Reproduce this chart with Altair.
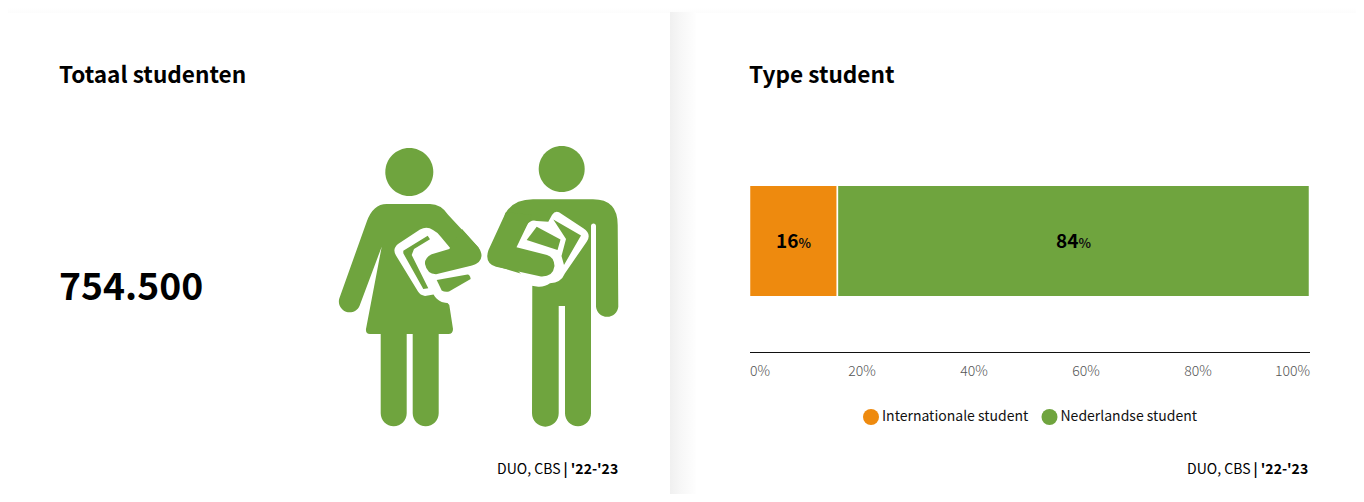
import altair as alt
import pandas as pd

FONT = "Noto Sans CJK SC"
GREEN = "#6fa43e"
ORANGE = "#ee8a0e"

# --- data
categories = ["Internationale student", "Nederlandse student"]
shares = [15.7, 84.3]
share_labels = ["16", "84"]
tick_values = [0, 20, 40, 60, 80, 100]
card_titles = ["Totaal studenten", "Type student"]
total_label = "754.500"
source_regular = "DUO, CBS"
source_bold = "| '22-'23"

# --- pictogram outlines (drawn back to front; page pixels)
def head(cx, cy, r):
    return f"M{cx-r},{cy}A{r},{r} 0 1 0 {cx+r},{cy}A{r},{r} 0 1 0 {cx-r},{cy}Z"

woman_body = ("M386.7,204 L430,204 Q441,204 448.3,215 L478.3,247.3 Q483,256 475,264 L437,274.3 L432,285 L449.3,305 "
              "L453,329 Q453,334 448.3,334 L438.7,334 L438.7,413.3 A13,13 0 0 1 412.7,413.3 L412.7,334 L406.7,334 "
              "L406.7,413.3 A13,13 0 0 1 380.7,413.3 L380.7,334 L370,334 Q365.5,334 366,329 L381.7,246.7 L359.5,306 "
              "A10.8,10.8 0 0 1 339.3,298.5 L366.7,221.7 Q373,204 386.7,204Z")
woman_book = ("M420,229.5 Q427,226 433,230 Q438,232.5 441,237 L451,249 L470,270 L452.5,303 Q446,303.5 441.7,302 "
              "Q436,299 433.5,294.5 L425,296 Q420,295 418,291.5 L396,255.5 Q392,249 398,244 Z")
woman_strip = "M403.3,250.7 L427.7,235.7 L430,239.3 L414,249 L411.7,255 L428.3,288.3 L423.3,289 L403.3,253.3Z"
woman_arm = ("M449.3,249 L431.7,254.3 Q424.5,258 425,264 Q427,274 436,274.3 L472,265.5 Q481,263 481.5,256 "
             "Q481.5,251 478,247 L462,229Z")
woman_piece = "M436.7,280 L467.5,274.5 Q470,274.5 470.7,279 L449,291.5 Q445,292.5 441.7,290.5Z"

man_body = ("M533,199.3 L593,199.3 Q617.7,199.3 617.7,225 L618.3,306.7 A11.2,11.2 0 0 1 596,306.7 L596,226 "
            "A2.5,2.5 0 0 0 591,226 L591,413.3 A13,13 0 0 1 565,413.3 L565,306 L558.7,306 L558.7,413.3 "
            "A13.3,13.3 0 0 1 532,413.3 L532.3,277 L496,266 L505,214 Q513,199.3 533,199.3Z")
man_book = ("M515,246.7 L526.7,225 Q531,219 536.7,221 L548.3,221.7 L552,215 Q555,210.5 559,212.3 L583.3,228.3 "
            "Q592,234 586.7,241.7 L565,273.3 Q561,283 550,283.3 Q545,287 538.3,286.7 L531.7,285.7 L510,262Z")
man_hole1 = "M536.7,226.7 L560.5,239.5 L557.5,250 L526.7,240Z"
man_hole2 = "M553.3,219.5 L581,235.5 L564,265 L561.5,256 L566,239Z"
man_arm = ("M506,212 L488.5,250 Q484,263 496,266.7 L541,276.5 Q553,277 554.5,266 Q554,257 547,255 L516.5,247.3 "
           "L532,215Z")

pictogram = [
    (head(409.3, 172, 24), GREEN), (woman_body, GREEN), (woman_book, "#ffffff"), (woman_strip, GREEN),
    (woman_arm, GREEN), (woman_piece, GREEN),
    (head(561.7, 169, 23), GREEN), (man_body, GREEN), (man_book, "#ffffff"), (man_hole1, GREEN),
    (man_hole2, GREEN), (man_arm, GREEN),
]

W, H = 1348, 486
OFF = 8  # page margin

def band(x0, x1, y0, y1, stops, horizontal=True):
    grad = {"gradient": "linear", "x1": 0, "x2": 1 if horizontal else 0, "y1": 0, "y2": 0 if horizontal else 1,
            "stops": [{"offset": o, "color": c} for o, c in stops]}
    return alt.Chart(pd.DataFrame({"a": [0]})).mark_rect(color=grad).encode(
        x=alt.value(x0 - OFF), x2=alt.value(x1 - OFF), y=alt.value(y0 - OFF), y2=alt.value(y1 - OFF))

def text(s, x, y, size, weight="normal", align="left", color="#000000"):
    return alt.Chart(pd.DataFrame({"t": [s]})).mark_text(
        font=FONT, fontSize=size, fontWeight=weight, align=align, baseline="alphabetic", color=color
    ).encode(text="t:N", x=alt.value(x - OFF), y=alt.value(y - OFF))

layers = [
    band(8, 1356, 8, 13, [(0, "#ffffff"), (1, "#fcfcfc")], horizontal=False),
    band(670, 696, 12, 494, [(0, "#f0f0f0"), (0.35, "#f6f6f6"), (1, "#fefefe")]),
]

for path, col in pictogram:
    layers.append(
        alt.Chart(pd.DataFrame({"a": [0]})).mark_point(
            shape=path, filled=True, fill=col, size=4, opacity=1, strokeWidth=0
        ).encode(x=alt.value(-OFF), y=alt.value(-OFF))
    )

df = pd.DataFrame({"cat": categories, "share": shares, "label": share_labels, "row": ["a", "a"]})
df["mid"] = df["share"].cumsum() - df["share"] / 2

x_scale = alt.Scale(domain=[0, 100], range=[741.5, 1301.5])
x_axis = alt.Axis(
    values=tick_values, labelExpr="datum.value + '%'", title=None, grid=False, ticks=False, labelFlush=True,
    domainColor="#111111", domainWidth=1, labelFont=FONT, labelFontSize=14, labelColor="#555555",
    labelPadding=12, offset=-(H - 344), labelFontWeight=300,
)

bars = alt.Chart(df).mark_bar(stroke="#ffffff", strokeWidth=1.5).encode(
    x=alt.X("share:Q", stack="zero", scale=x_scale, axis=x_axis),
    y=alt.Y("row:N", axis=None, scale=alt.Scale(range=[177.3, 288.7], paddingInner=0, paddingOuter=0)),
    color=alt.Color(
        "cat:N",
        scale=alt.Scale(domain=categories, range=[ORANGE, GREEN]),
        legend=alt.Legend(
            title=None, orient="none", legendX=855, legendY=401, direction="horizontal", symbolType="circle",
            symbolSize=256, symbolStrokeWidth=0, symbolOpacity=1, labelFont=FONT, labelFontSize=14,
            labelColor="#111111", labelOffset=3, columnPadding=12.5, labelLimit=300,
        ),
    ),
)
layers.append(bars)

layers.append(alt.Chart(df).mark_text(
    font=FONT, fontSize=19, fontWeight="bold", align="right", baseline="alphabetic", dx=5, color="#000000"
).encode(x=alt.X("mid:Q", scale=x_scale, axis=x_axis), y=alt.value(248 - OFF), text="label:N"))
layers.append(alt.Chart(df).mark_text(
    font=FONT, fontSize=13, fontWeight="bold", align="left", baseline="alphabetic", dx=5, color="#111111"
).encode(x=alt.X("mid:Q", scale=x_scale, axis=x_axis), y=alt.value(248 - OFF), text=alt.value("%")))

layers += [
    text(card_titles[0], 59, 83, 22.6, "bold"),
    text(card_titles[1], 749, 83, 22.6, "bold"),
    text(total_label, 59, 300, 37.3, "bold"),
    text(source_regular, 560.5, 474, 14, align="right"),
    text(source_bold, 563.5, 474, 14, "bold"),
    text(source_regular, 1250.5, 474, 14, align="right"),
    text(source_bold, 1253.5, 474, 14, "bold"),
]

chart = alt.layer(*layers).properties(
    width=W, height=H, padding=0, autosize=alt.AutoSizeParams(type="none"), background="#ffffff"
).configure_view(strokeWidth=0)

chart.save("out.html", embed_options={"renderer": "svg", "actions": False})
